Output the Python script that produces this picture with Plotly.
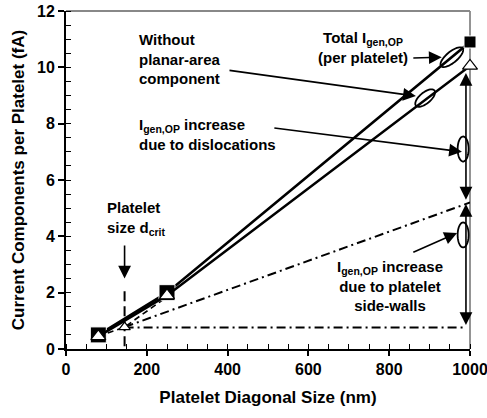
import numpy as np
import plotly.graph_objects as go

# ---- data ----
sizes = [80, 250, 1000]
total_igen = [0.5, 2.0, 10.9]
without_planar = [0.45, 1.9, 10.05]

dcrit_x = [145]
dcrit_y = [0.78]

dash_curve_x = [80, 145, 250]
dash_curve_y = [0.45, 0.78, 1.85]

sidewall_x = [145, 1000]
sidewall_y = [0.78, 5.2]

base_x = [145, 985]
base_y = [0.76, 0.76]

# ---- layout constants ----
W, H = 487, 418
ML, MR, MT, MB = 66, 17, 11, 69
XR = [0, 1000]
YR = [0, 12]
pw = W - ML - MR
ph = H - MT - MB
sx = pw / (XR[1] - XR[0])
sy = ph / (YR[1] - YR[0])

FONT = "Liberation Sans, Arial, Helvetica, sans-serif"

fig = go.Figure()

# dashed curve toward d_crit
fig.add_trace(go.Scatter(x=dash_curve_x, y=dash_curve_y, mode="lines",
                         line=dict(color="black", width=1.6, dash="6px,4px"),
                         hoverinfo="skip", showlegend=False))
# side-wall dash-dot line
fig.add_trace(go.Scatter(x=sidewall_x, y=sidewall_y, mode="lines",
                         line=dict(color="black", width=2, dash="9px,4px,2px,4px"),
                         hoverinfo="skip", showlegend=False))
# baseline dash-dot
fig.add_trace(go.Scatter(x=base_x, y=base_y, mode="lines",
                         line=dict(color="black", width=2, dash="9px,4px,2px,4px"),
                         hoverinfo="skip", showlegend=False))
# vertical dashed line at d_crit
fig.add_trace(go.Scatter(x=[dcrit_x[0], dcrit_x[0]], y=[0.1, 2.2], mode="lines",
                         line=dict(color="black", width=2, dash="10px,5px"),
                         hoverinfo="skip", showlegend=False))
# total
fig.add_trace(go.Scatter(x=sizes, y=total_igen, mode="lines+markers", cliponaxis=False,
                         line=dict(color="black", width=2.6),
                         marker=dict(symbol="square", size=[16, 16, 12], color="black", opacity=1),
                         showlegend=False))
# without planar
fig.add_trace(go.Scatter(x=sizes, y=without_planar, mode="lines+markers", cliponaxis=False,
                         line=dict(color="black", width=2.6),
                         marker=dict(symbol="triangle-up", size=[13, 13, 13], color="white", opacity=1,
                                     line=dict(color="black", width=1.2)),
                         showlegend=False))
# d_crit point
fig.add_trace(go.Scatter(x=dcrit_x, y=dcrit_y, mode="markers",
                         marker=dict(symbol="triangle-up", size=10, color="white",
                                     line=dict(color="black", width=1.2)),
                         showlegend=False))


def ellipse_path(cx, cy, a_px, b_px, ang_deg, n=48):
    t = np.linspace(0, 2 * np.pi, n)
    th = np.deg2rad(ang_deg)
    dx = a_px * np.cos(t) * np.cos(th) - b_px * np.sin(t) * np.sin(th)
    dy = a_px * np.cos(t) * np.sin(th) + b_px * np.sin(t) * np.cos(th)
    xs = cx + dx / sx
    ys = cy + dy / sy
    pts = [f"{x:.3f},{y:.4f}" for x, y in zip(xs, ys)]
    return "M " + " L ".join(pts) + " Z"

ang = np.rad2deg(np.arctan2((total_igen[2] - total_igen[1]) * sy, (sizes[2] - sizes[1]) * sx))
ellipses = [
    (955, 10.36, 14, 5.5, ang),
    (889, 8.91, 12, 5.5, ang),
    (983, 7.1, 12.5, 5.5, 90),
    (983, 4.05, 12.5, 5.5, 90),
]
shapes = []
for cx, cy, a, b, an in ellipses:
    shapes.append(dict(type="path", path=ellipse_path(cx, cy, a, b, an), xref="x", yref="y",
                       line=dict(color="black", width=1.8), fillcolor="rgba(0,0,0,0)"))
# gray top/right frame (drawn beneath the data)
shapes.append(dict(type="line", xref="paper", yref="paper", x0=0, x1=1, y0=1, y1=1, layer="below",
                   line=dict(color="#888888", width=1.8)))
shapes.append(dict(type="line", xref="paper", yref="paper", x0=1, x1=1, y0=0, y1=1, layer="below",
                   line=dict(color="#888888", width=1.8)))

annotations = []
tf = dict(family=FONT, size=15, color="black", weight="bold")

def text(x, y, s, align="left", xanchor="left"):
    annotations.append(dict(x=x, y=y, xref="x", yref="y", text=s, showarrow=False,
                            align=align, xanchor=xanchor, yanchor="middle", font=tf))

def arrow(x0, y0, x1, y1, both=False):
    d = dict(x=x1, y=y1, ax=x0, ay=y0, xref="x", yref="y", axref="x", ayref="y",
             text="", showarrow=True, arrowhead=2, arrowsize=1.6, arrowwidth=1.6,
             arrowcolor="black")
    if both:
        d.update(arrowside="end+start", startarrowhead=2, startarrowsize=1.6)
    annotations.append(d)

text(176, 10.3, "Without<br>planar-area<br>component")
text(176, 7.6, "I<sub>gen,OP</sub> increase<br>due to dislocations")
text(735, 10.72, "Total I<sub>gen,OP</sub><br>(per platelet)", align="center", xanchor="center")
text(97, 4.65, "Platelet<br>size d<sub>crit</sub>")
text(802, 2.25, "I<sub>gen,OP</sub> increase<br>due to platelet<br>side-walls", align="center", xanchor="center")

arrow(856, 10.33, 930, 10.36)
arrow(401, 9.9, 866, 8.98)
arrow(512, 7.85, 980, 7.0)
arrow(856, 3.41, 968, 4.12)
arrow(145, 3.73, 145, 2.5)
arrow(990, 5.25, 990, 9.8, both=True)
arrow(990, 0.8, 990, 5.15, both=True)

fig.update_layout(
    width=W, height=H,
    margin=dict(l=ML, r=MR, t=MT, b=MB),
    plot_bgcolor="white", paper_bgcolor="white",
    shapes=shapes, annotations=annotations,
    xaxis=dict(range=XR, tickvals=[0, 200, 400, 600, 800, 1000], ticks="outside", ticklen=5,
               tickwidth=1.5, tickcolor="black", showline=True, linecolor="black", linewidth=2,
               showgrid=False, zeroline=False, automargin=False, ticklabeloverflow="allow",
               minor=dict(dtick=50, ticks="inside", ticklen=5, tickwidth=1.2, tickcolor="black"),
               tickfont=dict(family=FONT, size=16, color="black", weight="bold"),
               title=dict(text="Platelet Diagonal Size (nm)",
                          font=dict(family=FONT, size=17, color="black", weight="bold"), standoff=14)),
    yaxis=dict(range=YR, tickvals=[0, 2, 4, 6, 8, 10, 12], ticks="outside", ticklen=6,
               tickwidth=1.5, tickcolor="black", showline=True, linecolor="black", linewidth=2,
               showgrid=False, zeroline=False, automargin=False, ticklabeloverflow="allow",
               minor=dict(dtick=0.5, ticks="inside", ticklen=5, tickwidth=1.2, tickcolor="black"),
               tickfont=dict(family=FONT, size=16, color="black", weight="bold"),
               title=dict(text="Current Components per Platelet (fA)",
                          font=dict(family=FONT, size=17, color="black", weight="bold"), standoff=8)),
)

fig.write_html("out.html", config={"displayModeBar": False},
               post_script="document.body.style.margin='0';document.body.style.overflow='hidden';")
